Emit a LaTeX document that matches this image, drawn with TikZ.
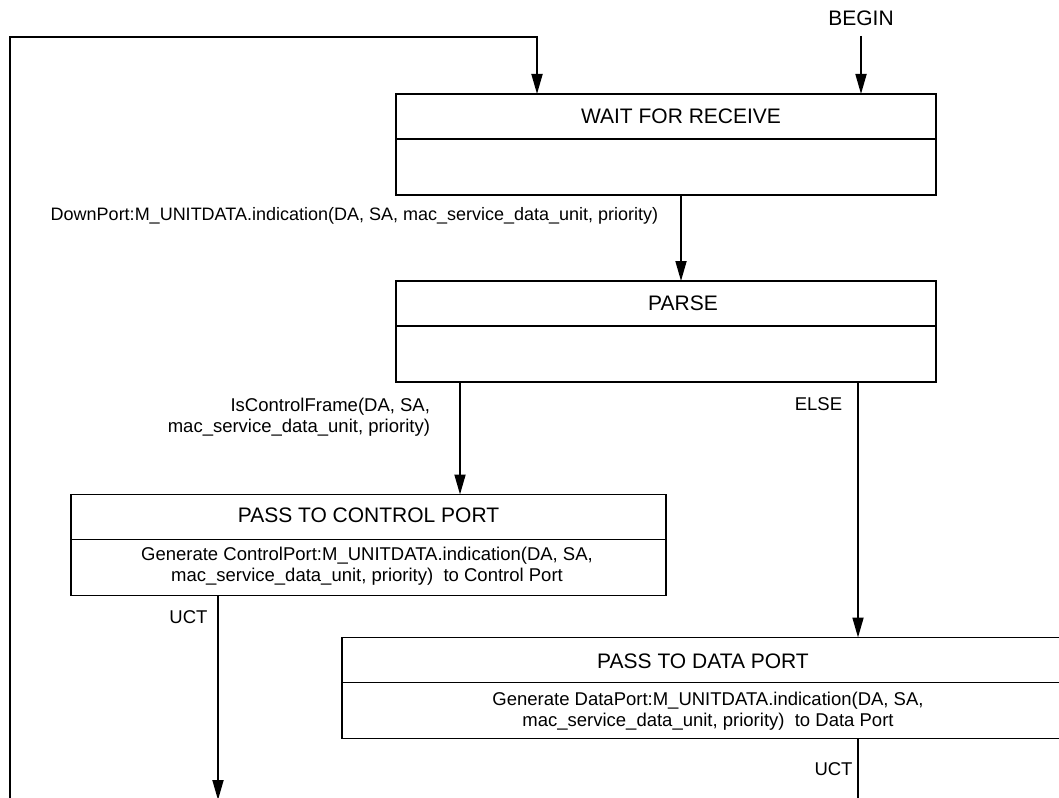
\documentclass[tikz,border=0pt]{standalone}
\usepackage{fontspec}
\setmainfont{Liberation Sans}
\usetikzlibrary{arrows.meta,calc}
\begin{document}
\begin{tikzpicture}[x=1pt,y=-1pt,
  every node/.style={inner sep=0pt,outer sep=0pt},
  lbl/.style={font=\fontsize{18.5}{20.5}\selectfont},
  ttl/.style={font=\fontsize{21}{25}\selectfont},
  statebox/.style={draw,line width=1.8pt,minimum height=101pt},
  ln/.style={line width=1.8pt},
  arr/.style={line width=1.8pt,-{Triangle[width=11pt,length=20pt]}}]
\useasboundingbox (0,0) rectangle (1059,797);
\clip (0,0) rectangle (1059,797);

% boxes
\node[statebox,minimum width=540pt] (wait) at (666,144.5) {};
\node[statebox,minimum width=540pt] (parse) at (666,331.5) {};
\node[statebox,minimum width=595pt] (ctrl) at (368.5,545) {};
\node[statebox,minimum width=730pt] (data) at (707,688) {};

% dividers
\draw[ln] ($(wait.north west)+(0,45)$) -- ($(wait.north east)+(0,45)$);
\draw[ln] ($(parse.north west)+(0,45)$) -- ($(parse.north east)+(0,45)$);
\draw[ln] ($(ctrl.north west)+(0,45)$) -- ($(ctrl.north east)+(0,45)$);
\draw[ln] ($(data.north west)+(0,45)$) -- ($(data.north east)+(0,45)$);

% titles
\node[ttl,anchor=base] (waitT) at (681,124) {WAIT FOR RECEIVE};
\node[ttl,anchor=base] (parseT) at (683,310) {PARSE};
\node[ttl,anchor=base] (ctrlT) at (368.5,522) {PASS TO CONTROL PORT};
\node[ttl,anchor=base] (dataT) at (703,668.5) {PASS TO DATA PORT};

% bodies
\node[lbl,align=center] (ctrlB) at (367,566) {Generate ControlPort:M\_UNITDATA.indication(DA, SA,\\mac\_service\_data\_unit, priority)\ \ to Control Port};
\node[lbl,align=center] (dataB) at (708,711) {Generate DataPort:M\_UNITDATA.indication(DA, SA,\\mac\_service\_data\_unit, priority)\ \ to Data Port};

% labels
\node[ttl,anchor=base] (begin) at (861,26) {BEGIN};
\node[font=\fontsize{18}{20.5}\selectfont,anchor=base] (down) at (354.5,220) {DownPort:M\_UNITDATA.indication(DA, SA, mac\_service\_data\_unit, priority)};
\node[lbl,align=right,anchor=east] (isctl) at (430,417) {IsControlFrame(DA, SA,\\mac\_service\_data\_unit, priority)};
\node[lbl,anchor=base] (else) at (818.5,410) {ELSE};
\node[lbl,anchor=base] (uct1) at (188.5,623) {UCT};
\node[lbl,anchor=base] (uct2) at (833.5,775) {UCT};

% free ends
\coordinate (loopbot) at (10,805);
\coordinate (loopturn) at (537,37);
\coordinate (beginstart) at (861,36);
\coordinate (ctrlout) at (218,800);
\coordinate (dataout) at (858,805);
\coordinate (x681) at (681,0);
\coordinate (x460) at (460,0);
\coordinate (x858) at (858,0);

% connectors
\draw[arr] (loopbot) |- (loopturn) -- (loopturn |- wait.north);
\draw[arr] (beginstart) -- (beginstart |- wait.north);
\draw[arr] (x681 |- wait.south) -- (x681 |- parse.north);
\draw[arr] (x460 |- parse.south) -- (x460 |- ctrl.north);
\draw[arr] (x858 |- parse.south) -- (x858 |- data.north);
\draw[arr] (ctrlout |- ctrl.south) -- (ctrlout);
\draw[ln] (dataout |- data.south) -- (dataout);
\end{tikzpicture}
\end{document}
